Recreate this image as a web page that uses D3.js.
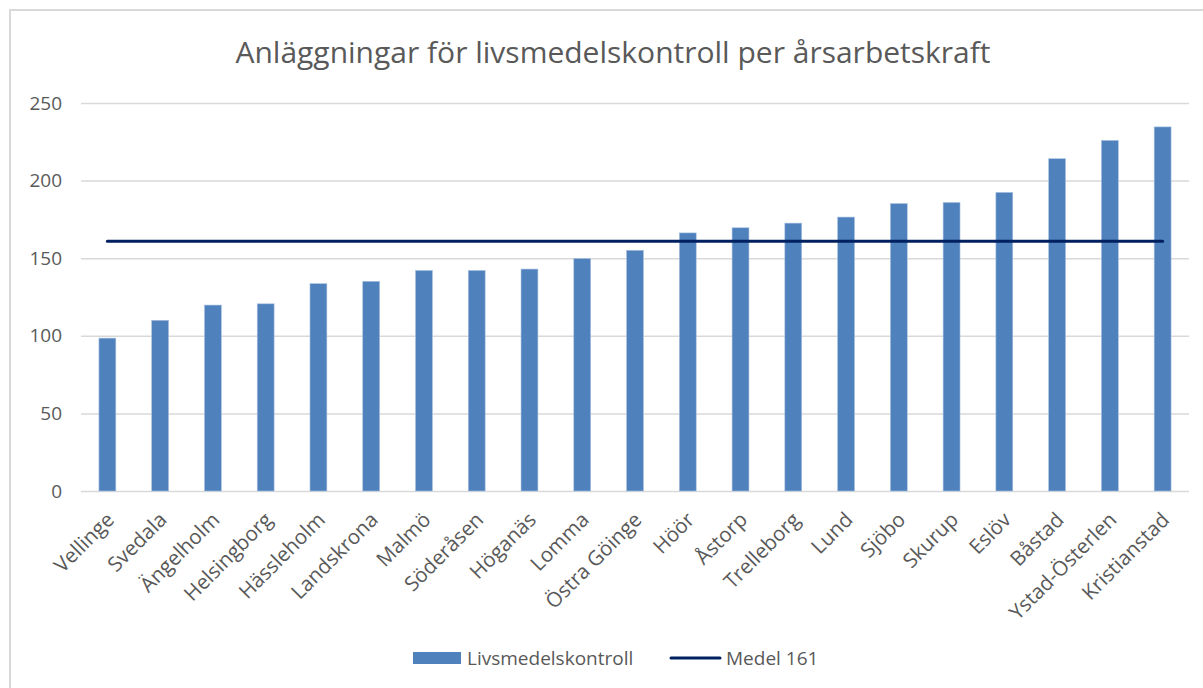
<!DOCTYPE html>
<html>
<head>
<meta charset="utf-8">
<script src="https://cdn.jsdelivr.net/npm/d3@7"></script>
<style>
  body { margin: 0; background: #fff; }
  svg { display: block; font-family: "Open Sans", sans-serif; }
</style>
</head>
<body>
<div id="chart"></div>
<script>
// chart data
const kommuner = ["Vellinge", "Svedala", "Ängelholm", "Helsingborg", "Hässleholm", "Landskrona",
  "Malmö", "Söderåsen", "Höganäs", "Lomma", "Östra Göinge", "Höör", "Åstorp", "Trelleborg",
  "Lund", "Sjöbo", "Skurup", "Eslöv", "Båstad", "Ystad-Österlen", "Kristianstad"];
const anlaggningar = [98.5, 110, 119.8, 120.6, 133.6, 135.1, 142.1, 142.1, 143, 149.8, 155.1,
  166.3, 169.6, 172.6, 176.5, 185.2, 185.9, 192.4, 214.1, 225.9, 234.6];
const medel = 161;
const yTicks = [0, 50, 100, 150, 200, 250];
const seriesNames = ["Livsmedelskontroll", "Medel 161"];

const width = 1203;
const height = 688;
const barColor = "#4f81bd";
const lineColor = "#002060";
const textColor = "#595959";
const gridColor = "#d9d9d9";

const svg = d3.select("#chart").append("svg")
  .attr("width", width)
  .attr("height", height);

// outer frame (chart area border, cut off at right/bottom)
svg.append("rect")
  .attr("x", 10).attr("y", 10)
  .attr("width", 1220).attr("height", 720)
  .attr("fill", "none")
  .attr("stroke", gridColor)
  .attr("stroke-width", 2);

const plot = { left: 81, right: 1189, top: 103, bottom: 491 };

const x = d3.scaleBand()
  .domain(kommuner)
  .range([plot.left, plot.right])
  .paddingInner(0.68)
  .paddingOuter(0.34);

const y = d3.scaleLinear()
  .domain([0, 250])
  .range([plot.bottom, plot.top]);

// title
svg.append("text")
  .attr("x", 613)
  .attr("y", 63)
  .attr("text-anchor", "middle")
  .attr("font-size", "30px")
  .attr("fill", textColor)
  .text("Anläggningar för livsmedelskontroll per årsarbetskraft");

// gridlines + y labels
const yAxis = d3.axisLeft(y)
  .tickValues(yTicks)
  .tickSize(-(plot.right - plot.left))
  .tickPadding(19);

const gy = svg.append("g")
  .attr("transform", `translate(${plot.left},0)`)
  .call(yAxis);
gy.select(".domain").remove();
gy.selectAll(".tick line")
  .attr("stroke", gridColor)
  .attr("stroke-width", 1.5);
gy.selectAll(".tick text")
  .attr("fill", textColor)
  .attr("font-size", "19px")
  .attr("font-family", "'Open Sans', sans-serif");

// bars
svg.selectAll(".bar")
  .data(anlaggningar)
  .enter()
  .append("rect")
  .attr("class", "bar")
  .attr("x", (d, i) => x(kommuner[i]))
  .attr("y", d => y(d))
  .attr("width", x.bandwidth())
  .attr("height", d => y(0) - y(d))
  .attr("fill", barColor)
  .attr("stroke", "#a9c1e0")
  .attr("stroke-width", 0.6);

// mean line
const line = d3.line()
  .x(d => x(d) + x.bandwidth() / 2)
  .y(() => y(medel));

svg.append("path")
  .datum(kommuner)
  .attr("d", line)
  .attr("fill", "none")
  .attr("stroke", lineColor)
  .attr("stroke-width", 3)
  .attr("stroke-linecap", "round");

// x labels, rotated
svg.selectAll(".xlabel")
  .data(kommuner)
  .enter()
  .append("text")
  .attr("class", "xlabel")
  .attr("transform", d => `translate(${x(d) + x.bandwidth() / 2 + 8},${plot.bottom + 30}) rotate(-45)`)
  .attr("text-anchor", "end")
  .attr("font-size", "20.5px")
  .attr("fill", textColor)
  .text(d => d);

// legend
const legend = svg.append("g").attr("transform", "translate(0,658)");
legend.append("rect")
  .attr("x", 413).attr("y", -6)
  .attr("width", 48).attr("height", 12)
  .attr("fill", barColor);
legend.append("text")
  .attr("x", 467).attr("y", 7)
  .attr("font-size", "19px")
  .attr("fill", textColor)
  .text(seriesNames[0]);
legend.append("line")
  .attr("x1", 671).attr("x2", 720)
  .attr("y1", 0).attr("y2", 0)
  .attr("stroke", lineColor)
  .attr("stroke-width", 3)
  .attr("stroke-linecap", "round");
legend.append("text")
  .attr("x", 726).attr("y", 7)
  .attr("font-size", "19px")
  .attr("fill", textColor)
  .text(seriesNames[1]);
</script>
</body>
</html>
